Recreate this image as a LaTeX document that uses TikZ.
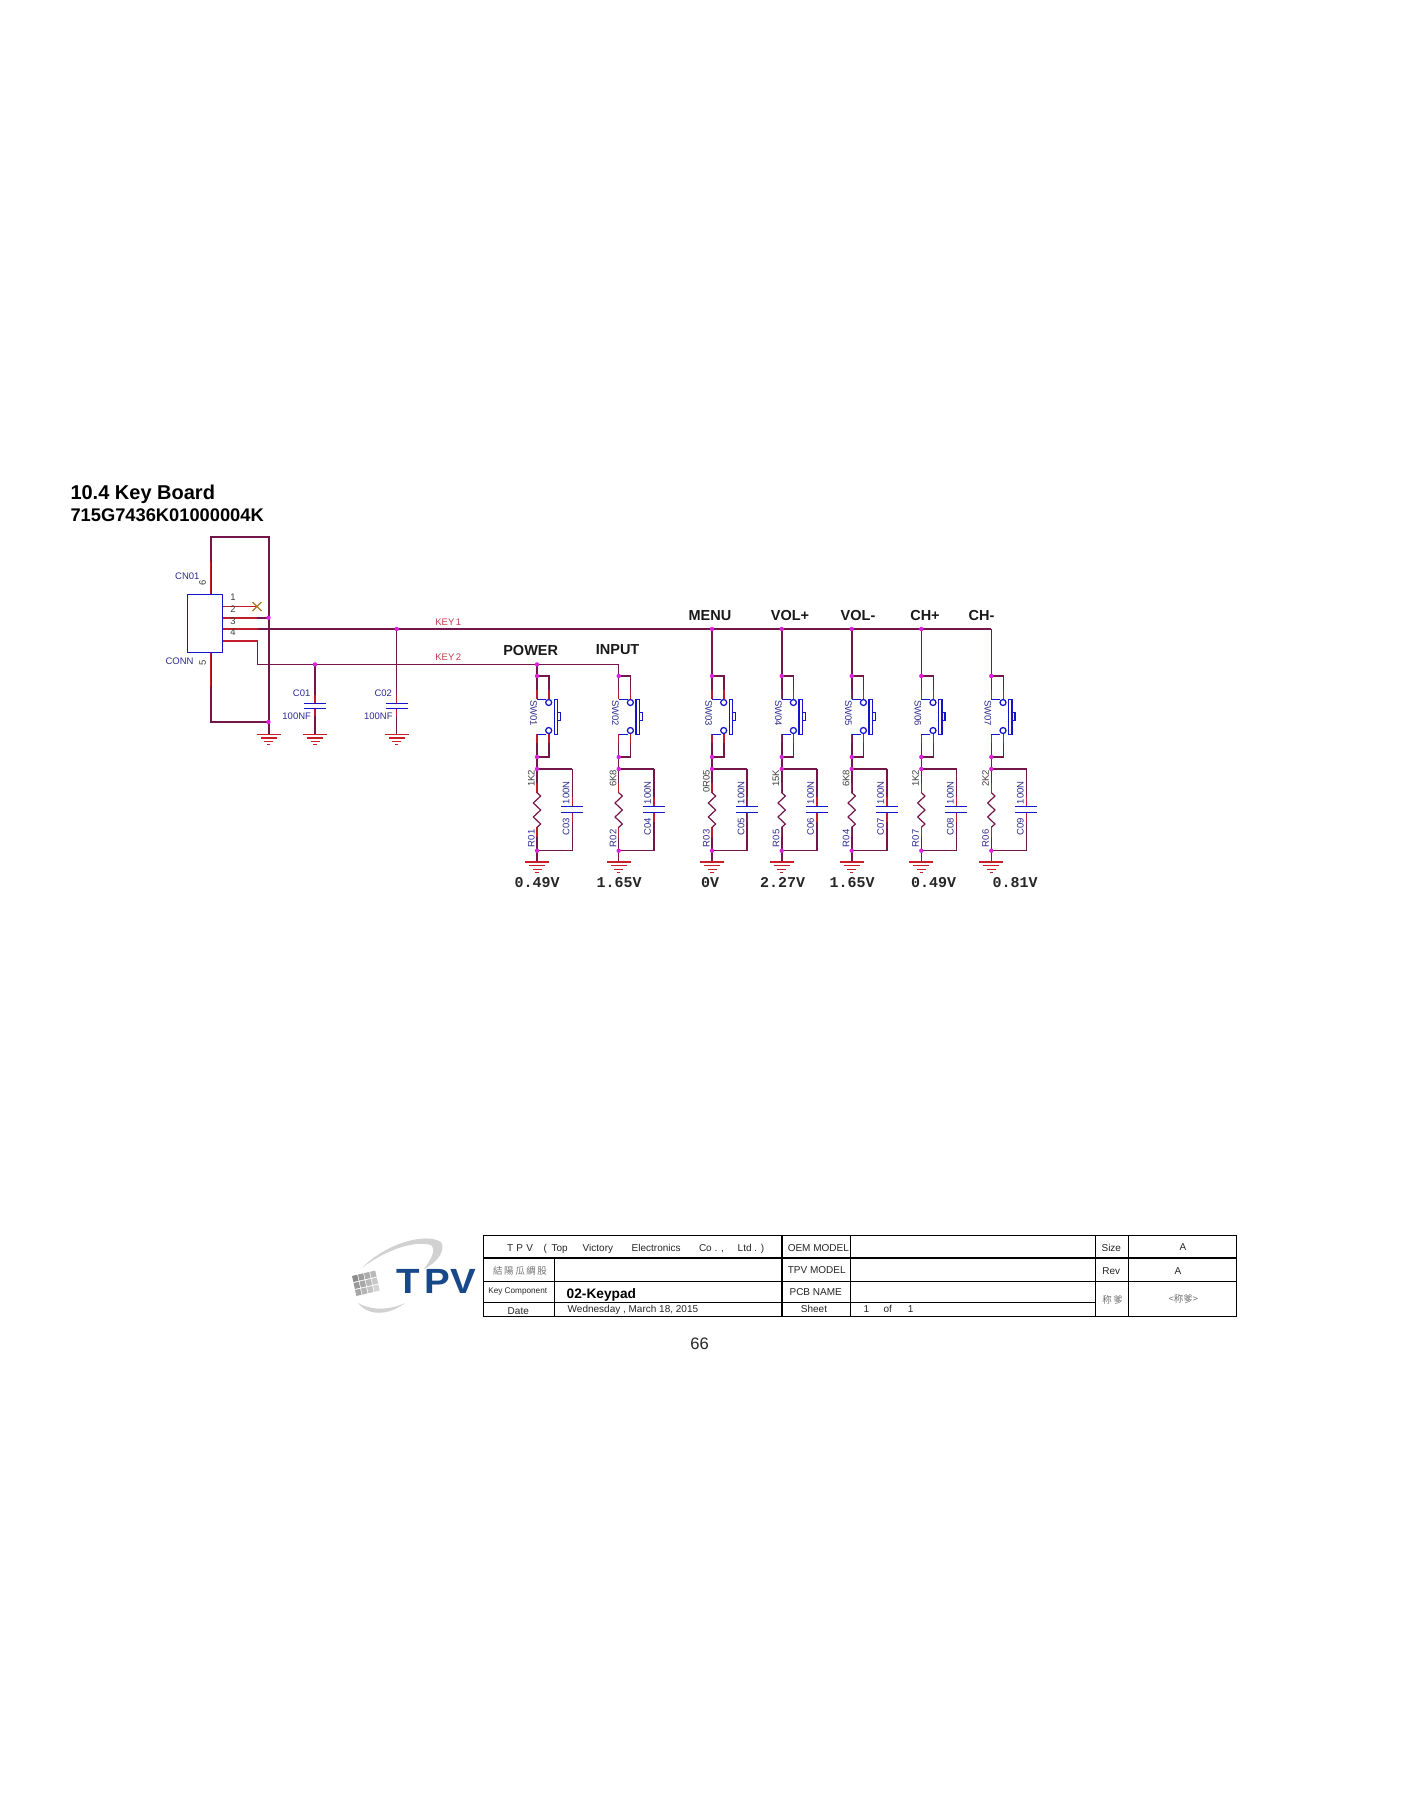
\documentclass[tikz,border=0pt]{standalone}
\usepackage{fontspec}
\setmainfont{Liberation Sans}
\newfontfamily\monof{Liberation Mono}
\newfontfamily\cjkf{Noto Sans CJK TC}
\definecolor{netc}{HTML}{74164A}
\definecolor{pinred}{HTML}{C01C2C}
\definecolor{devblue}{HTML}{1414C8}
\definecolor{lblblue}{HTML}{2C2C90}
\definecolor{junc}{HTML}{E020E0}
\definecolor{gndred}{HTML}{C81E28}
\definecolor{logob}{HTML}{17498A}
\definecolor{xmark}{HTML}{AA781E}
\newcommand{\fs}[1]{\fontsize{#1}{#1}\selectfont}
\tikzset{
  net/.style={draw=netc,line width=1.05pt},
  thicknet/.style={draw=netc,line width=2pt},
  pinline/.style={draw=pinred,line width=1.05pt},
  dev/.style={draw=devblue,line width=1.25pt},
  dot/.style={circle,fill=junc,draw=none,inner sep=0pt,minimum size=4.4pt},
  txt/.style={inner sep=0pt,outer sep=0pt,font=\fs{9.5}},
  lbl/.style={txt,text=lblblue},
  keylbl/.style={txt,text=pinred!85!white,font=\fs{9.5}},
  pinnum/.style={txt,text=black!75,font=\fs{9.5}},
  btn/.style={txt,font=\bfseries\fs{14.5},text=black!90},
  volt/.style={txt,font=\monof\bfseries\fs{15},text=black!85},
  tb/.style={draw=black,line width=0.9pt},
  tbb/.style={draw=black,line width=1.8pt},
  cell/.style={txt,font=\fs{10},text=black!85},
  gray cjk/.style={txt,font=\cjkf\fs{9.5},text=black!55},
  gnd/.pic={
    \draw[gndred,line width=1.2pt] (-12,0) -- (12,0);
    \draw[gndred,line width=1.2pt] (-8,3.7) -- (8,3.7);
    \draw[gndred,line width=1.2pt] (-4.5,7.2) -- (4.5,7.2);
    \draw[gndred,line width=1pt] (-1.7,10.6) -- (1.7,10.6);
  }
}
\begin{document}
\begin{tikzpicture}[x=1pt,y=-1pt]
\useasboundingbox[fill=white] (0,0) rectangle (1400,1812);

% titles
\node[txt,anchor=west,font=\bfseries\fs{20},text=black] (title) at (70.5,494) {10.4 Key Board};
\node[txt,anchor=west,font=\bfseries\fs{18.3},text=black] (sub) at (70.5,515) {715G7436K01000004K};

% connector points
\coordinate (fTL) at (210.5,536.5);
\coordinate (fTR) at (268.5,536.5);
\coordinate (fBL) at (210.5,722);
\coordinate (fBR) at (268.5,722);
\coordinate (p6) at (210.5,594.5);
\coordinate (p5) at (210.5,652.7);
\coordinate (p2) at (222.5,606.5);
\coordinate (px) at (257,606.5);
\coordinate (p3) at (222.5,617.7);
\coordinate (j3) at (268.5,617.7);
\coordinate (p4) at (222.5,629);
\coordinate (p7) at (222.5,641);
\coordinate (k2c1) at (257.5,641);
\coordinate (k2c2) at (257.5,664.4);
\coordinate (j1) at (396.7,629);
\coordinate (j2) at (315,664.4);
\coordinate (kcorner) at (991.3,629);
\coordinate (gf) at (268.5,734.3);
\coordinate (g1) at (315,734.3);
\coordinate (g2) at (396.7,734.3);
\coordinate (c1a) at (315,703.3);
\coordinate (c1b) at (315,708.3);
\coordinate (c2a) at (396.7,703.3);
\coordinate (c2b) at (396.7,708.3);

% frame nets
\draw[thicknet] (p6) -- (fTL) -- (fTR) -- (fBR) -- (fBL) -- (p5);
\draw[thicknet] (fBR) -- (gf);
\draw[thicknet] (p3) -- (j3);
\draw[pinline,line width=2pt] (p3) -- ++(34,0);
\draw[pinline] (p2) -- (px);
\draw[net] (p4) -- (kcorner);
\draw[pinline] (p4) -- ++(35,0);
\draw[net] (k2c1) -- (k2c2) -- (618.7,664.4);
\draw[pinline] (p7) -- (k2c1);
\draw[pinline] (p6) -- ++(0,-33);
\draw[pinline] (p5) -- ++(0,33);
\draw[net] (j1) -- (c2a) (c2b) -- (g2);
\draw[net] (j2) -- (c1a) (c1b) -- (g1);
\draw[pinline] (c1a) -- ++(0,-8) (c1b) -- ++(0,8) (c2a) -- ++(0,-8) (c2b) -- ++(0,8);
\draw[dev] (303.8,703.3) -- (326.2,703.3) (303.8,708.3) -- (326.2,708.3);
\draw[dev] (385.5,703.3) -- (407.9,703.3) (385.5,708.3) -- (407.9,708.3);
\draw[dev,line width=1.3pt] (187.5,594.5) rectangle (222.5,652.7);
\draw[draw=xmark,line width=1.1pt] (252.5,602) -- (261.5,611) (252.5,611) -- (261.5,602);
\node[dot] (dj3) at (j3) {};
\node[dot] (dfb) at (fBR) {};
\node[dot] (dj1) at (j1) {};
\node[dot] (dj2) at (j2) {};
\pic at (gf) {gnd};
\pic at (g1) {gnd};
\pic at (g2) {gnd};

\node[lbl] (cn) at (187.3,576) {CN01};
\node[lbl] (conn) at (179.5,661) {CONN};
\node[pinnum] (n1) at (233,597.3) {1};
\node[pinnum] (n2) at (233,609.5) {2};
\node[pinnum] (n3) at (233,621.3) {3};
\node[pinnum] (n4) at (233,632.7) {4};
\node[pinnum,rotate=90] (n6) at (202.7,582.7) {6};
\node[pinnum,rotate=90] (n5) at (202.7,663.3) {5};
\node[keylbl] (key1) at (448.3,622) {KEY\,1};
\node[keylbl] (key2) at (448.3,657) {KEY\,2};
\node[lbl] (lc1) at (301.7,693.3) {C01};
\node[lbl] (lv1) at (296.7,716.3) {100NF};
\node[lbl] (lc2) at (383.3,693.3) {C02};
\node[lbl] (lv2) at (378.3,716.3) {100NF};

% key columns
\foreach \cid/\xx/\yt/\rval/\rnam/\cnam/\snam/\lwa/\lwb in {
  a/537/664.4/1K2/R01/C03/SW01/1.05/1.05,
  b/618.7/664.4/6K8/R02/C04/SW02/1.05/1.05,
  c/712/629/0R05/R03/C05/SW03/1.05/2,
  d/781.7/629/15K/R05/C06/SW04/2/2,
  e/851.7/629/6K8/R04/C07/SW05/2/2,
  f/921.3/629/1K2/R07/C08/SW06/1.05/1.05,
  g/991.3/629/2K2/R06/C09/SW07/1.05/1.05}{
  \begin{scope}[shift={(\xx,0)}]
    \coordinate (top\cid) at (0,\yt);
    \coordinate (st\cid) at (0,676);
    \coordinate (sa\cid) at (0,699.3);
    \coordinate (sb\cid) at (0,734.3);
    \coordinate (sc\cid) at (0,757);
    \coordinate (rt\cid) at (0,769);
    \coordinate (za\cid) at (0,792.7);
    \coordinate (zb\cid) at (0,827.3);
    \coordinate (rb\cid) at (0,850.7);
    \coordinate (gg\cid) at (0,862);
    \coordinate (cr\cid) at (35.3,769);
    \coordinate (cp\cid) at (35.3,806.3);
    \coordinate (cq\cid) at (35.3,812.3);
    \coordinate (cb\cid) at (35.3,850.7);
    % nets
    \draw[net,line width=\lwa pt] (top\cid) -- (st\cid) (rb\cid) -- (gg\cid);
    \draw[net,line width=\lwa pt] (st\cid) -- (sa\cid) (sb\cid) -- (sc\cid) -- (rt\cid) -- (za\cid) (zb\cid) -- (rb\cid);
    \draw[net] (st\cid) -- (12,676) -- (12,699.3);
    \draw[net] (sc\cid) -- (12,757) -- (12,734.3);
    \draw[pinline] (0,690) -- (sa\cid) (12,690) -- (12,699.3) (0,743) -- (sb\cid) (12,743) -- (12,734.3);
    \draw[net] (rt\cid) -- (cr\cid) (cb\cid) -- (rb\cid);
    \draw[net,line width=\lwb pt] (cr\cid) -- (cp\cid) (cq\cid) -- (cb\cid);
    \draw[pinline] (0,783) -- (za\cid) (0,837) -- (zb\cid) (35.3,796.5) -- (cp\cid) (35.3,822) -- (cq\cid);
    % resistor
    \draw[netc,line width=1.2pt,line join=round] (za\cid) -- (3.7,796) -- (-3.7,803) -- (3.7,810) -- (-3.7,817) -- (3.7,824) -- (zb\cid);
    \draw[dev] (24,806.3) -- (46,806.3) (24,812.3) -- (46,812.3);
    % switch
    \draw[dev] (sa\cid) -- (9,699.3) (sb\cid) -- (9,734.3);
    \draw[dev,fill=white] (11.7,702.5) circle (3) (11.7,730.5) circle (3);
    \draw[dev] (17.2,699.3) rectangle (20.6,734.3);
    \draw[dev] (20.6,712.7) -- (23.7,712.7) -- (23.7,720.7) -- (20.6,720.7);
    % dots
    \node[dot] (d2\cid) at (st\cid) {};
    \node[dot] (d3\cid) at (sc\cid) {};
    \node[dot] (d4\cid) at (rt\cid) {};
    \node[dot] (d5\cid) at (rb\cid) {};
    \pic at (gg\cid) {gnd};
    % labels
    \node[lbl,rotate=-90] (ls\cid) at (-3.3,713) {\snam};
    \node[pinnum,rotate=90,anchor=east] (lv\cid) at (-5.7,770) {\rval};
    \node[lbl,rotate=90,anchor=west] (lr\cid) at (-5.7,847) {\rnam};
    \node[pinnum,rotate=90,anchor=east,text=lblblue] (lw\cid) at (29,781.5) {100N};
    \node[lbl,rotate=90,anchor=west] (lq\cid) at (29,835.7) {\cnam};
  \end{scope}
}
\node[dot] (tja) at (537,664.4) {};
\node[dot] (tjc) at (712,629) {};
\node[dot] (tjd) at (781.7,629) {};
\node[dot] (tje) at (851.7,629) {};
\node[dot] (tjf) at (921.3,629) {};

% button names
\node[btn] (bp) at (530.7,650) {POWER};
\node[btn] (bi) at (617.6,650) {INPUT};
\node[btn] (bm) at (710,615.5) {MENU};
\node[btn] (bv) at (790,615.5) {VOL+};
\node[btn] (bw) at (858,615.5) {VOL-};
\node[btn] (bc) at (925,615.5) {CH+};
\node[btn] (bd) at (981.5,615.5) {CH-};

% voltages
\node[volt] (v1) at (537,882.7) {0.49V};
\node[volt] (v2) at (619,882.7) {1.65V};
\node[volt] (v3) at (710,882.7) {0V};
\node[volt] (v4) at (782.5,882.7) {2.27V};
\node[volt] (v5) at (852,882.7) {1.65V};
\node[volt] (v6) at (933.7,882.7) {0.49V};
\node[volt] (v7) at (1015,882.7) {0.81V};

% logo
\fill[black!18] (362,1268) .. controls (385,1244) and (425,1232) .. (441,1242) .. controls (446,1250) and (438,1262) .. (424,1269) .. controls (432,1258) and (436,1250) .. (431,1245) .. controls (415,1240) and (385,1250) .. (362,1268) -- cycle;
\fill[black!18] (358,1303) .. controls (368,1316) and (388,1316) .. (405,1303) .. controls (390,1310) and (372,1311) .. (358,1303) -- cycle;
\foreach \i in {0,1,2,3}{\foreach \j in {0,1,2}{
  \pgfmathtruncatemacro{\shade}{45-\i*6-\j*5}
  \fill[black!\shade] (352+\i*6+\j*1.5,1276-\i*1.4+\j*7) -- ++(5.2,-1.3) -- ++(1.4,6) -- ++(-5.2,1.3) -- cycle;
}}
\node[txt,font=\bfseries\fs{35},text=logob,xscale=1.1] (logo) at (436.2,1281.5) {T\hspace{4pt}PV};

% title block
\coordinate (tl) at (483.7,1235.3);
\coordinate (br) at (1236.7,1316.3);
\draw[tb] (tl) rectangle (br);
\draw[tbb] (483.7,1257.7) -- (1236.7,1257.7);
\draw[tb] (483.7,1281.3) -- (1236.7,1281.3);
\draw[tb] (483.7,1302.3) -- (1095.7,1302.3);
\draw[tb] (554.3,1257.7) -- (554.3,1316.3);
\draw[tbb] (782,1235.3) -- (782,1316.3);
\draw[tb] (850.7,1235.3) -- (850.7,1316.3);
\draw[tb] (1095.7,1235.3) -- (1095.7,1316.3);
\draw[tb] (1128.3,1235.3) -- (1128.3,1316.3);

\node[cell,anchor=base west] (t1a) at (507,1251.5) {T\,\,P\,\,V};
\node[cell,anchor=base west] (t1b) at (543.5,1251.5) {(};
\node[cell,anchor=base west] (t1c) at (551.5,1251.5) {Top};
\node[cell,anchor=base west] (t1d) at (582.7,1251.5) {Victory};
\node[cell,anchor=base west] (t1e) at (631.7,1251.5) {Electronics};
\node[cell,anchor=base west] (t1f) at (699,1251.5) {Co . ,};
\node[cell,anchor=base west] (t1g) at (737.7,1251.5) {Ltd . )};
\node[cell] (t2) at (818.3,1248) {OEM MODEL};
\node[cell] (t3) at (816.7,1270) {TPV MODEL};
\node[cell] (t4) at (815.7,1292) {PCB NAME};
\node[cell] (t5) at (814,1309) {Sheet};
\node[gray cjk] (t6) at (520,1270.5) {結\,陽\,瓜\,綢\,股};
\node[cell,font=\fs{8.2}] (t7) at (517.7,1291) {Key Component};
\node[cell,anchor=west,font=\bfseries\fs{13.7},text=black] (t8) at (566.7,1294.5) {02-Keypad};
\node[cell] (t9) at (518.3,1310.8) {Date};
\node[cell,anchor=west] (t10) at (567.7,1309.5) {Wednesday , March 18, 2015};
\node[cell] (t11) at (866.3,1309) {1};
\node[cell] (t12) at (887.7,1309) {of};
\node[cell] (t13) at (910.7,1309) {1};
\node[cell] (t14) at (1111.3,1248) {Size};
\node[cell] (t15) at (1183,1247.3) {A};
\node[cell] (t16) at (1111.3,1270.8) {Rev};
\node[cell] (t17) at (1178,1270.8) {A};
\node[gray cjk] (t18) at (1112.7,1300) {称\,爹};
\node[gray cjk] (t19) at (1183.3,1298.8) {<称爹>};

\node[txt,font=\fs{16.6},text=black!85] (page) at (699.5,1343.6) {66};
\end{tikzpicture}
\end{document}
